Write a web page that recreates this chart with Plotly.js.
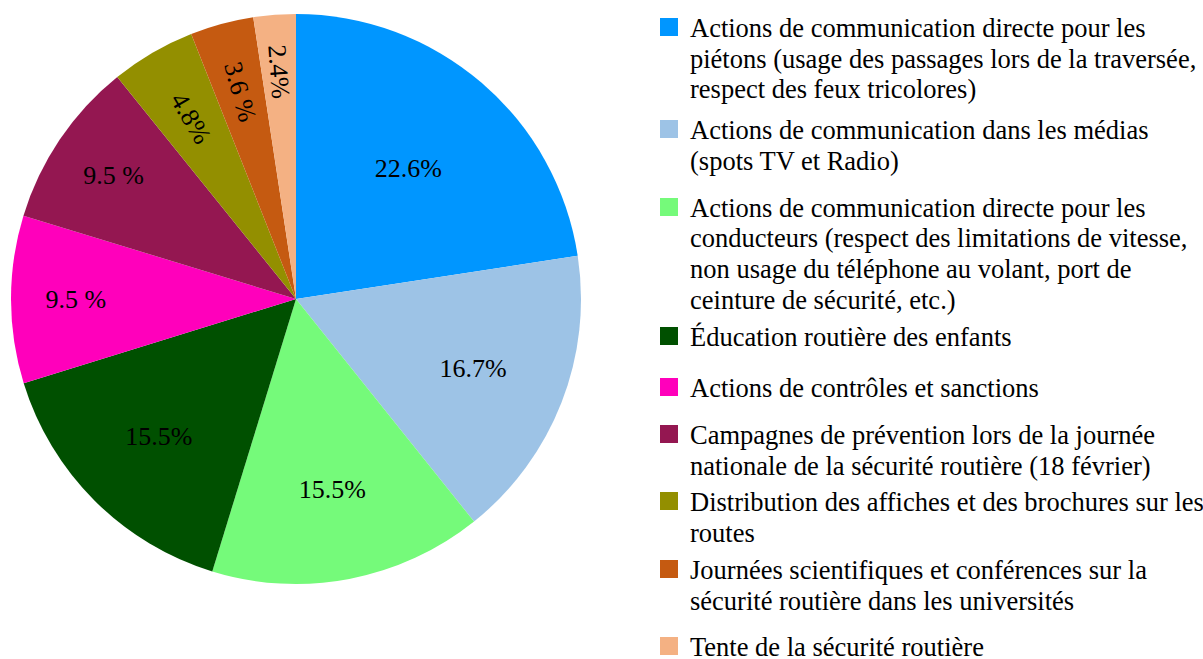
<!DOCTYPE html>
<html>
<head>
<meta charset="utf-8">
<script src="https://cdn.plot.ly/plotly-3.0.1.min.js"></script>
<style>
html,body{margin:0;padding:0;background:#fff;}
#chart{width:1203px;height:659px;}
</style>
</head>
<body>
<div id="chart"></div>
<script>
const categories = [
  "Actions de communication directe pour les<br>piétons (usage des passages lors de la traversée,<br>respect des feux tricolores)",
  "Actions de communication dans les médias<br>(spots TV et Radio)",
  "Actions de communication directe pour les<br>conducteurs (respect des limitations de vitesse,<br>non usage du téléphone au volant, port de<br>ceinture de sécurité, etc.)",
  "Éducation routière des enfants",
  "Actions de contrôles et sanctions",
  "Campagnes de prévention lors de la journée<br>nationale de la sécurité routière (18 février)",
  "Distribution des affiches et des brochures sur les<br>routes",
  "Journées scientifiques et conférences sur la<br>sécurité routière dans les universités",
  "Tente de la sécurité routière"
];
const values = [22.6, 16.7, 15.5, 15.5, 9.5, 9.5, 4.8, 3.6, 2.4];
const valueLabels = ["22.6%", "16.7%", "15.5%", "15.5%", "9.5 %", "9.5 %", "4.8%", "3.6 %", "2.4%"];
const colors = ["#0096FF", "#9DC3E6", "#75FA7A", "#005000", "#FF00BB", "#941751", "#938F00", "#C55A11", "#F4B183"];
const radialSlices = [false, false, false, false, false, false, true, true, true];

const W = 1203, H = 659;
const cx = 296, cy = 299, r = 285;
function pieDomain(rad) {
  return {x: [(cx - rad) / W, (cx + rad) / W], y: [1 - (cy + rad) / H, 1 - (cy - rad) / H]};
}
const fontFamily = "Liberation Serif";

// legend layout (pixel positions of each legend item's first line, line pitch)
const legendItemTops = [28, 130, 208, 337, 388, 435, 502, 570, 647];
const legendLinePitch = 30.5;
const legendTextX = 688, swatchX0 = 660, swatchSize = 18;

const mainTrace = {
  type: 'pie',
  labels: categories,
  values: values,
  text: valueLabels.map((t, i) => radialSlices[i] ? '' : t),
  textinfo: 'text',
  textposition: 'inside',
  insidetextorientation: 'horizontal',
  sort: false,
  direction: 'clockwise',
  rotation: 0,
  domain: pieDomain(r),
  marker: {colors: colors, line: {width: 0}},
  textfont: {family: fontFamily, size: 26, color: '#000'},
  showlegend: false,
  hoverinfo: 'none'
};
const radialTrace = {
  type: 'pie',
  labels: categories,
  values: values,
  text: valueLabels.map((t, i) => radialSlices[i] ? t : ''),
  textinfo: 'text',
  textposition: 'inside',
  insidetextorientation: 'radial',
  sort: false,
  direction: 'clockwise',
  rotation: 0,
  domain: pieDomain(r * 0.9),
  showlegend: false,
  marker: {colors: colors.map(() => 'rgba(0,0,0,0)'), line: {width: 0}},
  textfont: {family: fontFamily, size: 26, color: '#000'},
  hoverinfo: 'none'
};

// legend drawn as annotations (text) + shapes (swatches)
const annotations = [];
const shapes = [];
categories.forEach((cat, i) => {
  const lines = cat.split('<br>');
  lines.forEach((line, j) => {
    const yc = legendItemTops[i] + j * legendLinePitch;
    annotations.push({
      xref: 'paper', yref: 'paper',
      x: legendTextX / W, y: 1 - yc / H,
      xanchor: 'left', yanchor: 'middle',
      showarrow: false, align: 'left',
      text: line,
      font: {family: fontFamily, size: 26.5, color: '#000'}
    });
  });
  const yc0 = legendItemTops[i] - 1;
  shapes.push({
    type: 'rect', xref: 'paper', yref: 'paper',
    x0: swatchX0 / W, x1: (swatchX0 + swatchSize) / W,
    y0: 1 - (yc0 - swatchSize / 2) / H, y1: 1 - (yc0 + swatchSize / 2) / H,
    fillcolor: colors[i], line: {width: 0}
  });
});

const layout = {
  width: W, height: H,
  margin: {l: 0, r: 0, t: 0, b: 0},
  paper_bgcolor: '#fff',
  showlegend: false,
  font: {family: fontFamily},
  annotations: annotations,
  shapes: shapes
};
Plotly.newPlot('chart', [mainTrace, radialTrace], layout, {displayModeBar: false, staticPlot: true});
</script>
</body>
</html>
